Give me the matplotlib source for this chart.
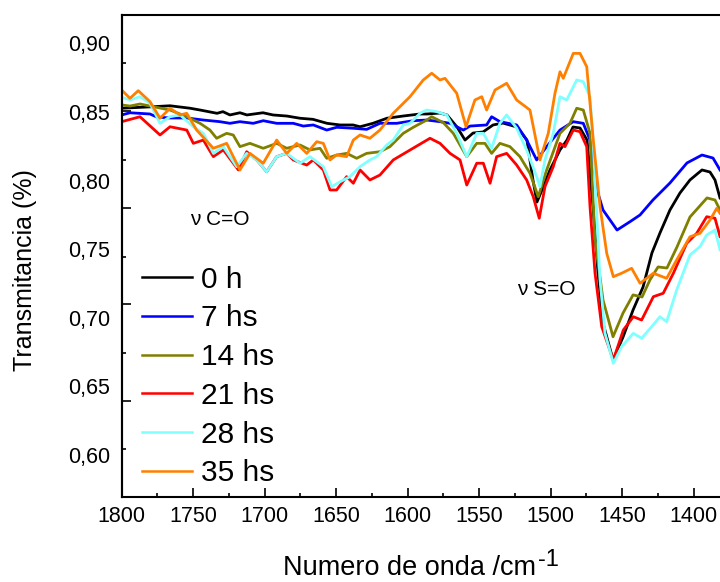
import numpy as np
import matplotlib
matplotlib.use('Agg')
import matplotlib.pyplot as plt
from matplotlib.lines import Line2D

plt.rcParams['font.family'] = ['Liberation Sans', 'DejaVu Sans']

labels = ['0 h', '7 hs', '14 hs', '21 hs', '28 hs', '35 hs']
colors = ['#000000', '#0000ff', '#808000', '#ff0000', '#80ffff', '#ff8000']

# (wavenumber cm-1, transmittance)
spec_0h = [(1800, 0.8527), (1778.1, 0.8538), (1766.2, 0.8545), (1752.2, 0.8527), (1745.2, 0.8514),
           (1733.3, 0.8490), (1729.2, 0.8502), (1724.3, 0.8478), (1717.3, 0.8494), (1712.4, 0.8478),
           (1701.2, 0.8494), (1694.2, 0.8478), (1684.4, 0.8470), (1675.3, 0.8454), (1666.2, 0.8446),
           (1656.4, 0.8417), (1647.3, 0.8405), (1638.2, 0.8405), (1633.3, 0.8392), (1624.3, 0.8417),
           (1614.5, 0.8454), (1603.3, 0.8470), (1591.4, 0.8485), (1586.5, 0.8485), (1577.4, 0.8492),
           (1572.5, 0.8478), (1565.5, 0.8390), (1559.9, 0.8295), (1554.3, 0.8346), (1547.3, 0.8354),
           (1540.3, 0.8405), (1533.4, 0.8419), (1523.6, 0.8390), (1516.6, 0.8295), (1512.4, 0.8004),
           (1509.6, 0.7843), (1506.1, 0.7931), (1500.5, 0.8077), (1493.5, 0.8223), (1488.6, 0.8295),
           (1484.4, 0.8390), (1479.5, 0.8383), (1474.6, 0.8295), (1470.4, 0.7807), (1466.9, 0.7326),
           (1463.4, 0.6961), (1456.4, 0.6692), (1449.4, 0.6859), (1442.4, 0.7056), (1435.4, 0.7224),
           (1429.2, 0.7472), (1423.6, 0.7617), (1416.6, 0.7785), (1409.6, 0.7909), (1402.6, 0.8004),
           (1394.2, 0.8077), (1388.6, 0.8062), (1385.1, 0.8004), (1381.6, 0.7873)]

spec_7h = [(1800, 0.8478), (1794.2, 0.8494), (1780.2, 0.8485), (1775.5, 0.8463), (1766.2, 0.8456),
           (1754.5, 0.8456), (1742.9, 0.8441), (1731.3, 0.8429), (1724.3, 0.8417), (1717.3, 0.8429),
           (1708.0, 0.8417), (1701.0, 0.8436), (1691.6, 0.8417), (1680.0, 0.8417), (1673.0, 0.8397),
           (1666.0, 0.8405), (1656.6, 0.8368), (1649.6, 0.8388), (1638.0, 0.8381), (1628.7, 0.8373),
           (1619.4, 0.8417), (1607.7, 0.8417), (1596.1, 0.8436), (1586.5, 0.8441), (1577.4, 0.8429),
           (1570.4, 0.8417), (1561.1, 0.8368), (1556.4, 0.8397), (1544.8, 0.8405), (1541.3, 0.8465),
           (1535.5, 0.8429), (1523.8, 0.8405), (1516.8, 0.8295), (1509.8, 0.8150), (1502.8, 0.8247),
           (1493.5, 0.8368), (1484.2, 0.8429), (1477.2, 0.8417), (1472.5, 0.8295), (1467.6, 0.7931),
           (1463.4, 0.7785), (1453.6, 0.7639), (1444.5, 0.7700), (1437.5, 0.7749), (1428.5, 0.7858),
           (1416.6, 0.7982), (1404.7, 0.8128), (1394.2, 0.8186), (1386.5, 0.8164), (1381.6, 0.8077)]

spec_14h = [(1800, 0.8551), (1794.2, 0.8543), (1787.2, 0.8558), (1780.2, 0.8543), (1766.2, 0.8514),
            (1754.5, 0.8465), (1745.2, 0.8417), (1738.3, 0.8368), (1733.6, 0.8308), (1726.6, 0.8344),
            (1722.0, 0.8332), (1717.3, 0.8247), (1710.3, 0.8271), (1701.0, 0.8235), (1691.6, 0.8271),
            (1684.6, 0.8235), (1675.3, 0.8259), (1668.3, 0.8223), (1661.3, 0.8235), (1656.6, 0.8162),
            (1649.6, 0.8186), (1642.6, 0.8198), (1635.7, 0.8162), (1628.7, 0.8198), (1619.4, 0.8210),
            (1612.4, 0.8247), (1603.1, 0.8344), (1596.1, 0.8388), (1586.7, 0.8441), (1583.2, 0.8465),
            (1575.1, 0.8422), (1568.1, 0.8344), (1558.7, 0.8174), (1551.7, 0.8271), (1546.0, 0.8271),
            (1541.3, 0.8198), (1535.5, 0.8271), (1528.5, 0.8247), (1521.5, 0.8174), (1514.5, 0.8053),
            (1508.7, 0.7882), (1502.8, 0.8077), (1493.5, 0.8344), (1486.5, 0.8417), (1481.8, 0.8527),
            (1477.2, 0.8514), (1472.5, 0.8344), (1469.0, 0.7566), (1463.4, 0.7129), (1456.4, 0.6861),
            (1449.4, 0.7034), (1442.4, 0.7166), (1436.1, 0.7151), (1430.6, 0.7275), (1424.9, 0.7370),
            (1418.7, 0.7362), (1411.7, 0.7515), (1402.6, 0.7734), (1390.7, 0.7873), (1385.1, 0.7858),
            (1381.6, 0.7785)]

spec_21h = [(1800, 0.8429), (1787.2, 0.8465), (1773.2, 0.8332), (1766.2, 0.8392), (1754.5, 0.8368),
            (1749.9, 0.8271), (1742.9, 0.8295), (1735.9, 0.8174), (1728.9, 0.8223), (1718.4, 0.8077),
            (1712.6, 0.8210), (1705.6, 0.8150), (1698.6, 0.8064), (1691.6, 0.8174), (1684.6, 0.8198),
            (1680.0, 0.8150), (1670.6, 0.8113), (1666.0, 0.8150), (1659.0, 0.8077), (1654.3, 0.7931),
            (1649.7, 0.7931), (1642.7, 0.8028), (1638.0, 0.7980), (1633.3, 0.8077), (1626.4, 0.8004),
            (1619.4, 0.8040), (1610.1, 0.8150), (1598.4, 0.8222), (1584.4, 0.8308), (1577.4, 0.8271),
            (1570.4, 0.8198), (1563.4, 0.8150), (1558.7, 0.7967), (1551.7, 0.8126), (1547.1, 0.8126),
            (1542.4, 0.7980), (1537.8, 0.8174), (1530.8, 0.8198), (1523.8, 0.8113), (1516.8, 0.8004),
            (1512.2, 0.7882), (1508.0, 0.7725), (1504.0, 0.7955), (1498.2, 0.8101), (1493.5, 0.8271),
            (1490.0, 0.8247), (1484.2, 0.8368), (1479.5, 0.8356), (1474.8, 0.8247), (1472.5, 0.7809),
            (1469.0, 0.7326), (1464.3, 0.6934), (1456.2, 0.6692), (1449.2, 0.6910), (1442.2, 0.7007),
            (1436.4, 0.6983), (1428.2, 0.7153), (1421.3, 0.7178), (1414.2, 0.7324), (1404.9, 0.7542),
            (1397.9, 0.7615), (1390.9, 0.7736), (1385.1, 0.7725), (1381.6, 0.7591)]

spec_28h = [(1800, 0.8607), (1794.2, 0.8587), (1787.2, 0.8611), (1780.2, 0.8563), (1773.2, 0.8417),
            (1766.2, 0.8465), (1759.2, 0.8478), (1749.9, 0.8392), (1742.9, 0.8344), (1735.9, 0.8198),
            (1728.9, 0.8247), (1719.6, 0.8101), (1712.6, 0.8198), (1705.6, 0.8150), (1698.6, 0.8064),
            (1691.6, 0.8174), (1684.6, 0.8198), (1675.3, 0.8126), (1668.3, 0.8174), (1659.0, 0.8101),
            (1653.1, 0.7955), (1647.3, 0.7991), (1640.3, 0.8028), (1633.3, 0.8101), (1626.4, 0.8150),
            (1621.7, 0.8174), (1614.7, 0.8259), (1610.1, 0.8295), (1603.1, 0.8405), (1598.4, 0.8417),
            (1591.4, 0.8490), (1586.7, 0.8514), (1579.7, 0.8502), (1572.7, 0.8478), (1565.7, 0.8344),
            (1558.7, 0.8174), (1551.7, 0.8344), (1547.1, 0.8344), (1541.3, 0.8235), (1535.5, 0.8417),
            (1530.8, 0.8478), (1523.8, 0.8381), (1516.8, 0.8223), (1509.8, 0.8028), (1507.5, 0.7955),
            (1504.0, 0.8150), (1498.2, 0.8344), (1493.5, 0.8611), (1488.8, 0.8587), (1481.8, 0.8733),
            (1477.2, 0.8720), (1472.5, 0.8611), (1470.4, 0.8295), (1468.3, 0.7858), (1465.5, 0.7275),
            (1462.0, 0.6886), (1456.2, 0.6667), (1450.4, 0.6789), (1442.2, 0.6886), (1436.4, 0.6850),
            (1429.4, 0.6934), (1423.6, 0.7007), (1418.9, 0.6971), (1411.9, 0.7202), (1402.6, 0.7457),
            (1395.6, 0.7518), (1390.9, 0.7603), (1385.1, 0.7639), (1381.6, 0.7494)]

spec_35h = [(1800, 0.8660), (1794.2, 0.8599), (1788.4, 0.8655), (1780.2, 0.8575), (1773.2, 0.8454),
            (1766.2, 0.8526), (1759.2, 0.8478), (1754.5, 0.8490), (1747.6, 0.8368), (1735.9, 0.8235),
            (1726.6, 0.8271), (1717.3, 0.8077), (1710.3, 0.8198), (1701.0, 0.8126), (1691.6, 0.8295),
            (1684.6, 0.8198), (1677.6, 0.8271), (1670.6, 0.8198), (1663.6, 0.8283), (1659.0, 0.8271),
            (1654.3, 0.8150), (1649.7, 0.8186), (1642.7, 0.8174), (1638.0, 0.8295), (1633.3, 0.8332),
            (1626.4, 0.8308), (1619.4, 0.8368), (1610.1, 0.8490), (1598.4, 0.8611), (1589.1, 0.8733),
            (1583.2, 0.8782), (1577.4, 0.8733), (1573.9, 0.8745), (1565.7, 0.8636), (1559.2, 0.8392),
            (1553.0, 0.8587), (1548.2, 0.8611), (1544.8, 0.8514), (1538.9, 0.8660), (1530.8, 0.8709),
            (1523.8, 0.8587), (1514.5, 0.8514), (1507.5, 0.8150), (1501.7, 0.8344), (1497.0, 0.8636),
            (1493.5, 0.8793), (1491.2, 0.8745), (1484.2, 0.8927), (1479.5, 0.8927), (1474.8, 0.8830),
            (1470.2, 0.8295), (1465.5, 0.7809), (1460.8, 0.7469), (1456.2, 0.7299), (1450.4, 0.7324),
            (1443.4, 0.7360), (1437.5, 0.7251), (1428.2, 0.7324), (1418.9, 0.7287), (1411.9, 0.7421),
            (1402.6, 0.7590), (1395.6, 0.7615), (1388.6, 0.7712), (1383.9, 0.7797), (1381.6, 0.7761)]

spectra = [spec_0h, spec_7h, spec_14h, spec_21h, spec_28h, spec_35h]

ytick_vals = [0.60, 0.65, 0.70, 0.75, 0.80, 0.85, 0.90]
ytick_text = ['0,60', '0,65', '0,70', '0,75', '0,80', '0,85', '0,90']
ymark_long = [0.6393, 0.7100, 0.7800, 0.8507]
ymark_short = [0.6043, 0.6743, 0.7443, 0.8150, 0.8857]

fig = plt.figure(figsize=(7.2, 5.82), dpi=100)
ax = fig.add_axes([0.169, 0.1466, 0.831, 0.8284])

for s, c in zip(spectra, colors):
    a = np.array(s)
    ax.plot(a[:, 0], a[:, 1], color=c, lw=2.0, solid_joinstyle='round')

ax.set_xlim(1800, 1381.6)
ax.set_ylim(0.5695, 0.921)

ax.set_xticks(np.arange(1400, 1801, 50))
ax.set_xticks(np.arange(1425, 1800, 50), minor=True)
ax.tick_params(axis='x', which='major', direction='in', length=6.5, width=1.2,
               labelsize=15.5, pad=6.5)
ax.tick_params(axis='x', which='minor', direction='in', length=3, width=1.2)

ax.set_yticks(ytick_vals, ytick_text)
ax.tick_params(axis='y', which='major', length=0, labelsize=15.5, pad=8.4)

sec = ax.secondary_yaxis('left')
sec.set_yticks(ymark_long)
sec.set_yticks(ymark_short, minor=True)
sec.tick_params(which='major', direction='in', length=6.5, width=1.2, labelleft=False)
sec.tick_params(which='minor', direction='in', length=3, width=1.2, labelleft=False)
sec.spines['left'].set_linewidth(1.5)

ax.spines['right'].set_visible(False)
for sp in ['left', 'bottom', 'top']:
    ax.spines[sp].set_linewidth(1.5)

handles = [Line2D([], [], color=c, lw=1.8) for c in colors]
ax.legend(handles, labels, loc='upper left', bbox_to_anchor=(0.0339, 0.4792),
          frameon=False, fontsize=21.5, handlelength=1.67, handletextpad=0.31,
          labelspacing=0.36, borderpad=0, borderaxespad=0)

ax.text(1752.2, 0.7719, 'ν C=O', fontsize=15, ha='left', va='center')
ax.text(1523.6, 0.7202, 'ν S=O', fontsize=15, ha='left', va='center')

fig.text(25 / 720, 1 - 270 / 582, 'Transmitancia (%)', rotation=90,
         ha='center', va='center', fontsize=18)
fig.text(283 / 720, 7 / 582, 'Numero de onda /cm', ha='left', va='baseline', fontsize=19.5)
fig.text(538 / 720, 16 / 582, '-1', ha='left', va='baseline', fontsize=17)

fig.savefig('out.png', dpi=100)
